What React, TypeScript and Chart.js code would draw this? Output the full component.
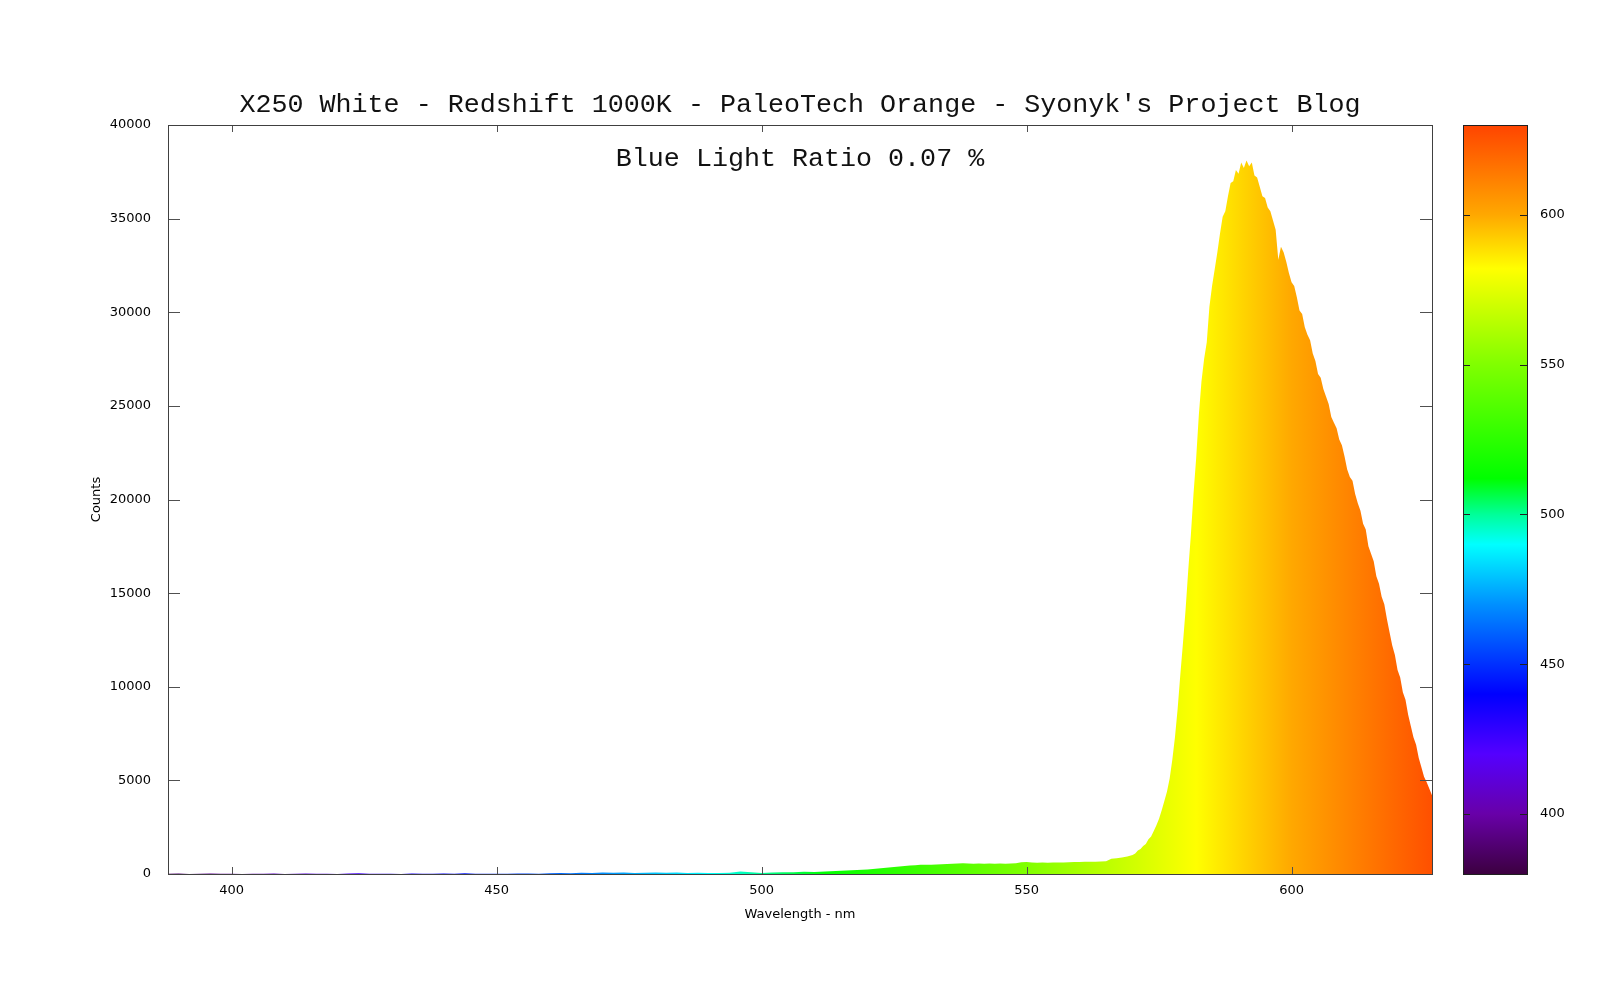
import React, { useEffect, useRef } from 'react';
import { Chart, registerables } from 'chart.js';

Chart.register(...registerables);

const TITLE = "X250 White - Redshift 1000K - PaleoTech Orange - Syonyk's Project Blog";
const ANNOTATION = 'Blue Light Ratio 0.07 %';
const X_LABEL = 'Wavelength - nm';
const Y_LABEL = 'Counts';

const xTicks = [400, 450, 500, 550, 600];
const yTicks = [0, 5000, 10000, 15000, 20000, 25000, 30000, 35000, 40000];
const cbTicks = [400, 450, 500, 550, 600];

const paletteNm = [380, 400, 420, 440, 455, 470, 490, 500, 512, 550, 582, 600, 630];
const paletteColors = [
  '#3c0040', '#6800a8', '#5400ff', '#0000ff', '#0048ff', '#0090ff', '#00ffff',
  '#00ff99', '#00ff00', '#80ff00', '#ffff00', '#ffa800', '#ff4400',
];

const wavelengths = [
  388, 390, 392, 394, 396, 398, 400, 402, 404, 406,
  408, 410, 412, 414, 416, 418, 420, 422, 424, 426,
  428, 430, 432, 434, 436, 438, 440, 442, 444, 446,
  448, 450, 452, 454, 456, 458, 460, 462, 464, 466,
  468, 470, 472, 474, 476, 478, 480, 482, 484, 486,
  488, 490, 492, 494, 496, 498, 500, 502, 504, 506,
  508, 510, 512, 514, 516, 518,
  520, 521, 522, 523, 524, 525, 526, 527, 528, 529,
  530, 531, 532, 533, 534, 535, 536, 537, 538, 539,
  540, 541, 542, 543, 544, 545, 546, 547, 548, 549,
  550, 551, 552, 553, 554, 555, 556, 557, 558, 559,
  560, 561, 562, 563, 564, 565, 566, 567, 568, 569,
  570, 570.5, 571, 571.5, 572, 572.5, 573, 573.5, 574, 574.5,
  575, 575.5, 576, 576.5, 577, 577.5, 578, 578.5, 579, 579.5,
  580, 580.5, 581, 581.5, 582, 582.5, 583, 583.5, 584, 584.5,
  585, 585.5, 586, 586.5, 587, 587.5, 588, 588.5, 589, 589.5,
  590, 590.5, 591, 591.5, 592, 592.5, 593, 593.5, 594, 594.5,
  595, 595.5, 596, 596.5, 597, 597.5, 598, 598.5, 599, 599.5,
  600, 600.5, 601, 601.5, 602, 602.5, 603, 603.5, 604, 604.5,
  605, 605.5, 606, 606.5, 607, 607.5, 608, 608.5, 609, 609.5,
  610, 610.5, 611, 611.5, 612, 612.5, 613, 613.5, 614, 614.5,
  615, 615.5, 616, 616.5, 617, 617.5, 618, 618.5, 619, 619.5,
  620, 620.5, 621, 621.5, 622, 622.5, 623, 623.5, 624, 624.5,
  625, 625.5, 626, 626.5,
];

const counts = [
  10, 25, 5, 15, 30, 10, 20, 5, 15, 10,
  25, 5, 20, 30, 10, 15, 5, 25, 35, 10,
  20, 15, 5, 25, 10, 20, 30, 15, 35, 10,
  20, 15, 10, 25, 30, 20, 45, 55, 40, 70,
  60, 75, 65, 80, 60, 70, 85, 65, 75, 60,
  70, 55, 60, 70, 140, 90, 60, 80, 95, 90,
  120, 110, 140, 165, 190, 210,
  240, 265, 290, 320, 350, 375, 400, 430, 455, 470,
  490, 500, 495, 510, 515, 530, 545, 560, 570, 555,
  550, 560, 545, 555, 550, 560, 545, 555, 580, 625,
  640, 610, 600, 610, 605, 615, 620, 610, 630, 640,
  635, 650, 655, 660, 665, 675, 820, 840, 880, 930,
  1020, 1100, 1250, 1330, 1500, 1600, 1850, 2000, 2300, 2600,
  2950, 3400, 3900, 4400, 5100, 6100, 7300, 8800, 10600, 12300,
  14100, 16200, 18100, 20300, 22200, 24500, 26300, 27500, 28400, 30300,
  31400, 32300, 33200, 34200, 35100, 35400, 36200, 36900, 37000, 37600,
  37400, 38000, 37700, 38100, 37800, 38000, 37300, 37200, 36700, 36200,
  36100, 35600, 35400, 34900, 34400, 32800, 33500, 33200, 32700, 32100,
  31600, 31400, 30800, 30100, 29900, 29200, 28800, 28500, 27800, 27400,
  26700, 26500, 25900, 25500, 25100, 24400, 24100, 23800, 23200, 22900,
  22300, 21600, 21200, 21000, 20300, 19800, 19400, 18700, 18400, 17500,
  17100, 16700, 15900, 15500, 14800, 14400, 13600, 12900, 12200, 11700,
  10900, 10500, 9700, 9300, 8500, 7900, 7300, 6900, 6200, 5700,
  5200, 4900, 4550, 4200,
];

const MONO = '"Liberation Mono", "Courier New", monospace';
const SANS = '"DejaVu Sans", sans-serif';

function spectrumGradient(ctx: CanvasRenderingContext2D, p0: number, p1: number, horizontal: boolean) {
  const g = horizontal
    ? ctx.createLinearGradient(p0, 0, p1, 0)
    : ctx.createLinearGradient(0, p0, 0, p1);
  const lo = paletteNm[0];
  const hi = paletteNm[paletteNm.length - 1];
  paletteNm.forEach((nm, i) => g.addColorStop((nm - lo) / (hi - lo), paletteColors[i]));
  return g;
}

const framePlugin = {
  id: 'gnuFrame',
  afterDraw(chart: any) {
    const { ctx, chartArea: a, scales } = chart;
    const xs = scales.x;
    const ys = scales.y;
    const cb = scales.cb;
    ctx.save();

    // plot tick marks (inward, mirrored)
    ctx.strokeStyle = '#505050';
    ctx.lineWidth = 1;
    ctx.beginPath();
    yTicks.forEach((v) => {
      const py = Math.round(ys.getPixelForValue(v)) + 0.5;
      ctx.moveTo(a.left, py);
      ctx.lineTo(a.left + 12, py);
      ctx.moveTo(a.right, py);
      ctx.lineTo(a.right - 12, py);
    });
    xTicks.forEach((v) => {
      const px = Math.round(xs.getPixelForValue(v)) + 0.5;
      ctx.moveTo(px, a.bottom);
      ctx.lineTo(px, a.bottom - 7);
      ctx.moveTo(px, a.top);
      ctx.lineTo(px, a.top + 7);
    });
    ctx.stroke();

    // plot border
    ctx.strokeStyle = '#404040';
    ctx.strokeRect(Math.round(a.left) + 0.5, Math.round(a.top) + 0.5, Math.round(a.right - a.left), Math.round(a.bottom - a.top));

    // colour box
    const cbL = Math.round(a.right) + 31;
    const cbW = 64;
    const top = cb.getPixelForValue(cb.max);
    const bot = cb.getPixelForValue(cb.min);
    ctx.fillStyle = spectrumGradient(ctx, cb.getPixelForValue(paletteNm[0]), cb.getPixelForValue(paletteNm[paletteNm.length - 1]), false);
    ctx.fillRect(cbL, top, cbW, bot - top);
    ctx.strokeStyle = '#202020';
    ctx.strokeRect(cbL + 0.5, Math.round(top) + 0.5, cbW, Math.round(bot - top));
    ctx.beginPath();
    cbTicks.forEach((v) => {
      const py = Math.round(cb.getPixelForValue(v)) + 0.5;
      ctx.moveTo(cbL, py);
      ctx.lineTo(cbL + 7, py);
      ctx.moveTo(cbL + cbW, py);
      ctx.lineTo(cbL + cbW - 7, py);
    });
    ctx.stroke();

    // texts
    const cx = (a.left + a.right) / 2;
    ctx.fillStyle = '#111';
    ctx.textAlign = 'center';
    ctx.textBaseline = 'alphabetic';
    ctx.font = `26.7px ${MONO}`;
    ctx.fillText(TITLE, cx, a.top - 13);
    ctx.fillText(ANNOTATION, cx, a.top + 41);

    ctx.fillStyle = '#000';
    ctx.font = `13px ${SANS}`;
    ctx.textBaseline = 'middle';
    ctx.fillText(X_LABEL, cx, a.bottom + 41);
    ctx.save();
    ctx.translate(97, (a.top + a.bottom) / 2);
    ctx.rotate(-Math.PI / 2);
    ctx.fillText(Y_LABEL, 0, 0);
    ctx.restore();

    ctx.restore();
  },
};

export default function App() {
  const ref = useRef<HTMLCanvasElement | null>(null);

  useEffect(() => {
    if (!ref.current) return;
    const points = wavelengths.map((w, i) => ({ x: w, y: counts[i] }));
    const tickFont = { family: SANS, size: 13 };
    const chart = new Chart(ref.current, {
      type: 'line',
      data: {
        datasets: [
          {
            data: points,
            fill: 'origin',
            borderWidth: 0,
            borderColor: 'rgba(0,0,0,0)',
            pointRadius: 0,
            tension: 0,
            backgroundColor: (c: any) => {
              const ch = c.chart;
              if (!ch.chartArea) return 'rgba(0,0,0,0)';
              const xs = ch.scales.x;
              return spectrumGradient(
                ch.ctx,
                xs.getPixelForValue(paletteNm[0]),
                xs.getPixelForValue(paletteNm[paletteNm.length - 1]),
                true,
              );
            },
          },
        ],
      },
      options: {
        animation: false,
        responsive: true,
        maintainAspectRatio: false,
        devicePixelRatio: 1,
        layout: { padding: { top: 125, bottom: 86, left: 0, right: 0 } },
        plugins: { legend: { display: false }, tooltip: { enabled: false } },
        scales: {
          x: {
            type: 'linear',
            min: 388,
            max: 626.5,
            grid: { display: false, drawTicks: false },
            border: { display: false },
            afterBuildTicks: (s: any) => { s.ticks = xTicks.map((v) => ({ value: v })); },
            afterFit: (s: any) => { s.height = 40; },
            ticks: { padding: 9, font: tickFont, color: '#000', maxRotation: 0, callback: (v: any) => String(v) },
          },
          y: {
            type: 'linear',
            min: 0,
            max: 40000,
            grid: { display: false, drawTicks: false },
            border: { display: false },
            afterBuildTicks: (s: any) => { s.ticks = yTicks.map((v) => ({ value: v })); },
            afterFit: (s: any) => { s.width = 168; },
            ticks: { padding: 17, font: tickFont, color: '#000', callback: (v: any) => String(v) },
          },
          cb: {
            type: 'linear',
            position: 'right',
            min: 380,
            max: 630,
            grid: { display: false, drawTicks: false },
            border: { display: false },
            afterBuildTicks: (s: any) => { s.ticks = cbTicks.map((v) => ({ value: v })); },
            afterFit: (s: any) => { s.width = 168; },
            ticks: { padding: 108, font: tickFont, color: '#000', callback: (v: any) => String(v) },
          },
        },
      },
      plugins: [framePlugin],
    });
    return () => chart.destroy();
  }, []);

  return (
    <div style={{ position: 'absolute', left: 0, top: 0, width: 1600, height: 1000, background: '#fff' }}>
      <canvas ref={ref} />
    </div>
  );
}
